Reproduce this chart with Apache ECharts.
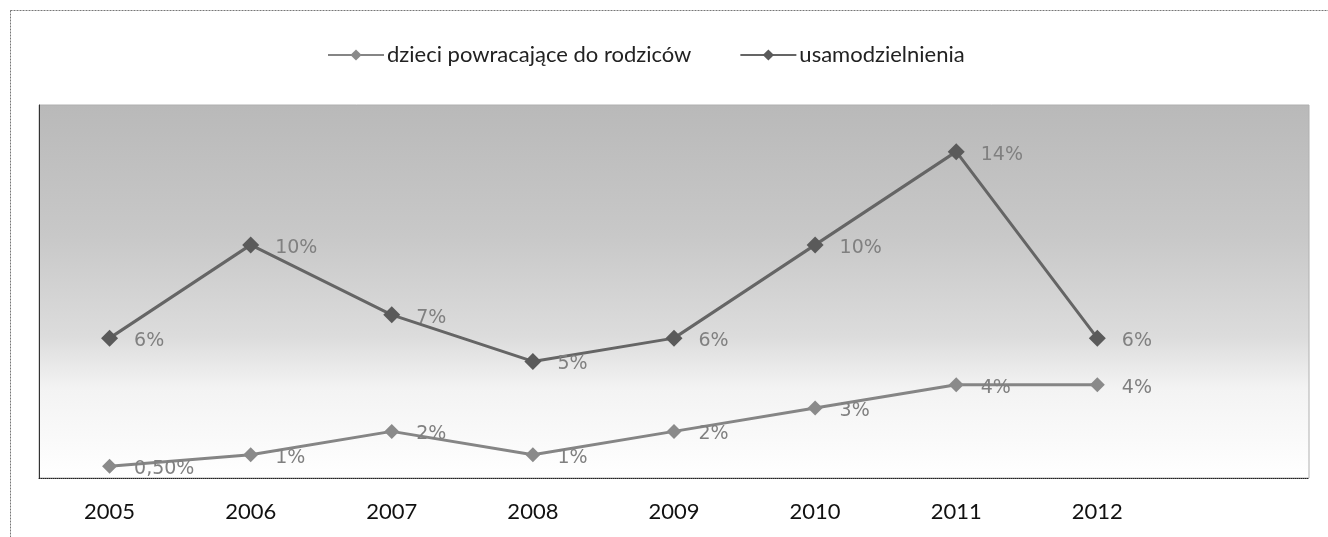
<!DOCTYPE html>
<html><head><meta charset="utf-8">
<script src="https://cdn.jsdelivr.net/npm/echarts@6/dist/echarts.min.js"></script>
<style>html,body{margin:0;padding:0;background:#fff}#c{width:1328px;height:537px}</style>
</head><body><div id="c"></div>
<script>
const years = ['2005','2006','2007','2008','2009','2010','2011','2012',''];
const dzieci = [0.5, 1, 2, 1, 2, 3, 4, 4];
const usamodzielnienia = [6, 10, 7, 5, 6, 10, 14, 6];
const dzieciLabels = ['0,50%','1%','2%','1%','2%','3%','4%','4%'];
const usamLabels = ['6%','10%','7%','5%','6%','10%','14%','6%'];
const names = ['dzieci powracające do rodziców', 'usamodzielnienia'];

const chart = echarts.init(document.getElementById('c'), null, {renderer:'canvas'});
const labelStyle = (arr, d) => ({
  show: true, position: 'right', distance: d, offset: [0, 3],
  fontFamily: 'DejaVu Sans', fontSize: 19, color: '#808080',
  formatter: p => arr[p.dataIndex]
});
chart.setOption({
  animation: false,
  backgroundColor: '#fff',
  graphic: [{
    type: 'rect', shape: {x: 10.5, y: 10.5, width: 1330, height: 540},
    style: {fill: 'none', stroke: '#777', lineWidth: 1, lineDash: [2, 1]}, silent: true, z: -1
  }],
  legend: {
    top: 39, left: 322, itemGap: 48, itemWidth: 56, itemHeight: 14,
    textStyle: {fontFamily: 'Lato', fontSize: 22, color: '#222', padding: [0, 0, 0, -2]},
    data: names
  },
  grid: {
    left: 39, right: 19, top: 105, bottom: 59,
    show: true, borderWidth: 1, borderColor: '#b0b0b0',
    backgroundColor: {
      type: 'linear', x: 0, y: 0, x2: 0, y2: 1,
      colorStops: [
        {offset: 0, color: '#b9b9b9'},
        {offset: 0.35, color: '#c8c8c8'},
        {offset: 0.62, color: '#dcdcdc'},
        {offset: 0.76, color: '#f3f3f3'},
        {offset: 1, color: '#ffffff'}
      ]
    }
  },
  xAxis: {
    type: 'category', data: years, boundaryGap: true,
    axisLine: {show: true, lineStyle: {color: '#222', width: 1, type: 'dotted'}},
    axisTick: {show: false},
    axisLabel: {margin: 23, fontFamily: 'Lato', fontSize: 22, color: '#111'}
  },
  yAxis: {
    type: 'value', min: 0, max: 16, interval: 2,
    axisLine: {show: true, lineStyle: {color: '#333', width: 1}},
    axisTick: {show: false}, axisLabel: {show: false}, splitLine: {show: false}
  },
  series: [
    {
      name: names[0], type: 'line', data: dzieci,
      symbol: 'diamond', symbolSize: 15,
      lineStyle: {color: '#858585', width: 3},
      itemStyle: {color: '#8a8a8a'},
      label: labelStyle(dzieciLabels, 17)
    },
    {
      name: names[1], type: 'line', data: usamodzielnienia,
      symbol: 'diamond', symbolSize: 17,
      lineStyle: {color: '#656565', width: 3},
      itemStyle: {color: '#5a5a5a'},
      label: labelStyle(usamLabels, 16)
    }
  ]
});
</script></body></html>
